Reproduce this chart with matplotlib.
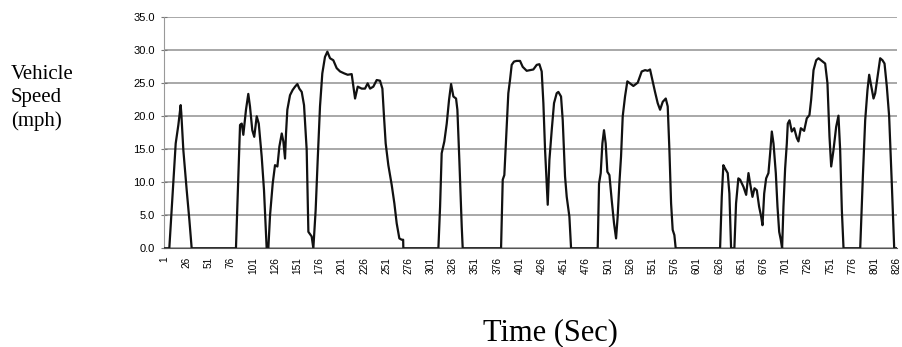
import matplotlib.pyplot as plt
import numpy as np

# speed trace (time in s, speed in mph)
time_s = [1, 6.5, 11.0, 13.7, 16.7, 19.3, 20.0, 22.3, 26.1, 29.1, 31.7,
          81.6, 84.3, 86.2, 88.1, 89.9, 92.9, 95.5, 97.4, 100.0, 102.2, 105.0,
          107.3, 110.6, 113.2, 115.5, 116.2, 118.1,
          120.0, 123.0, 125.6, 128.3, 130.5, 133.2, 135.0, 136.9, 138.0, 139.5,
          142.5, 145.5, 148.2, 150.8, 153.0, 155.7, 158.3, 161.3, 163.2, 166.9,
          168.8, 171.4, 173.7, 176.3, 178.9, 181.9, 184.6, 187.6, 191.3, 195.1,
          198.9, 203.7, 207.5, 212.0, 213.9, 215.8, 218.8, 223.3, 227.0, 230.0,
          232.7, 236.4, 240.2, 243.9, 246.6, 248.4, 250.3, 253.3, 257.1, 260.1,
          262.7, 265.7, 268.4, 270.0, 270.2,
          309.7, 311.6, 313.4, 316.4, 319.1, 321.7, 324.0, 326.6, 329.6, 331.1,
          333.3, 336.0, 337.1,
          380.3, 382.2, 384.0, 385.9, 388.5, 390.4, 392.3, 394.9, 397.9, 401.7,
          404.7, 409.2, 413.0, 416.7, 420.5, 423.5, 426.1, 428.0, 429.9, 431.8,
          432.9, 434.8, 437.4, 440.0, 443.0, 444.9, 447.9, 449.8, 452.4, 454.3,
          457.3, 459.2,
          489.2, 490.7, 492.6, 494.5, 496.3, 498.2, 500.1, 502.4, 505.0, 507.6,
          509.9, 511.7, 513.6, 515.5, 517.4, 520.0, 522.6, 525.6, 529.4, 534.3,
          538.8, 542.6, 545.6, 548.2, 550.8, 553.8, 556.8, 559.5, 562.5, 565.9,
          568.1, 570.0, 571.9, 573.7, 575.6, 577.1,
          627.1, 629.0, 630.8, 632.7, 635.7, 637.6, 639.5, 643.2, 645.1, 647.7,
          649.7, 653.5, 656.5, 659.1, 661.0, 663.6, 665.9, 668.5, 671.1, 673.4,
          674.9, 676.8, 679.0, 681.6, 683.5, 685.4, 687.3, 689.9, 691.8, 693.7,
          695.5, 697.0, 698.5, 700.4, 702.3, 703.4, 705.3, 707.9, 710.6, 713.6,
          715.4, 718.1, 721.8, 724.8, 727.8, 729.7, 732.4, 735.4, 738.0, 741.7,
          745.5, 748.1, 750.4, 752.3, 754.9, 757.9, 760.5, 762.4, 764.3, 766.2,
          785.0, 788.0, 790.6, 793.2, 795.1, 797.3, 800.0, 801.9, 804.5, 807.5,
          810.1, 812.4, 815.0, 817.6, 820.6, 823.3, 826]
speed_mph = [0, 0, 9.8, 15.9, 18.7, 21.7, 20.5, 14.9, 8.8, 4.3, 0,
             0, 10.9, 18.7, 18.9, 17.2, 21.0, 23.4, 21.5, 17.9, 16.9, 20.0,
             18.9, 13.9, 8.8, 1.8, 0, 0,
             5.0, 9.8, 12.6, 12.4, 15.4, 17.4, 16.2, 13.6, 17.4, 21.0,
             23.2, 24.0, 24.5, 24.9, 24.2, 23.7, 21.7, 14.9, 2.5, 1.8,
             0, 5.8, 13.4, 21.5, 26.5, 29.0, 29.8, 28.8, 28.5, 27.3,
             26.8, 26.5, 26.3, 26.4, 24.5, 22.7, 24.5, 24.2, 24.2, 25.0,
             24.2, 24.5, 25.5, 25.4, 24.2, 20.0, 15.9, 12.6, 9.6, 6.8,
             3.8, 1.5, 1.3, 1.3, 0,
             0, 6.3, 14.4, 16.2, 18.9, 22.5, 24.9, 23.0, 22.7, 21.0,
             13.4, 3.3, 0,
             0, 10.4, 11.1, 16.4, 23.5, 25.5, 27.8, 28.3, 28.4, 28.4,
             27.5, 26.9, 27.0, 27.1, 27.8, 27.9, 26.8, 22.0, 14.9, 9.8,
             6.6, 13.4, 17.9, 22.0, 23.5, 23.7, 23.0, 19.4, 10.9, 7.8,
             4.8, 0,
             0, 9.8, 11.4, 15.9, 17.9, 15.9, 11.6, 11.1, 7.3, 3.8,
             1.5, 4.8, 9.8, 13.9, 20.0, 23.0, 25.3, 25.0, 24.6, 25.1,
             26.8, 27.0, 26.9, 27.1, 25.5, 23.7, 22.0, 21.0, 22.2, 22.7,
             21.5, 14.9, 6.8, 2.8, 2.0, 0,
             0, 7.8, 12.6, 12.1, 11.4, 8.3, 0, 0, 6.8, 10.6,
             10.4, 9.3, 8.1, 11.4, 9.8, 7.8, 9.1, 8.8, 6.3, 4.8,
             3.5, 8.3, 10.6, 11.4, 14.4, 17.7, 15.9, 11.4, 6.3, 2.5,
             1.3, 0, 6.3, 12.1, 15.9, 18.9, 19.4, 17.7, 18.2, 16.7,
             16.2, 18.2, 17.8, 19.7, 20.2, 22.5, 27.0, 28.5, 28.8, 28.4,
             28.0, 25.0, 16.9, 12.4, 14.9, 18.4, 20.1, 14.9, 5.8, 0,
             0, 10.9, 19.4, 24.0, 26.3, 24.7, 22.7, 23.5, 26.0, 28.8,
             28.5, 28.0, 24.5, 20.0, 9.8, 0, 0]

x_ticks = list(range(1, 827, 25))
y_ticks = np.arange(0, 35.1, 5)


fig = plt.figure(figsize=(9.02, 3.47), dpi=100)
ax = fig.add_axes([0.1818, 0.2844, 0.8127, 0.6656])

for yv in y_ticks:
    ax.axhline(yv, color='#a8a8a8', lw=1.4, zorder=1)
ax.plot(time_s, speed_mph, color='#111111', lw=1.6, zorder=3)

ax.set_xlim(0.5, 826.5)
ax.set_ylim(0, 35)
ax.set_yticks(y_ticks)
ax.set_yticklabels(['%.1f' % v for v in y_ticks], fontsize=8, family='Liberation Sans')
ax.set_xticks(x_ticks)
ax.set_xticklabels([str(v) for v in x_ticks], rotation=90, fontsize=7.3,
                   family='Liberation Sans')
ax.tick_params(axis='y', direction='inout', length=5, width=0.8,
               color='#777777', pad=4)
ax.tick_params(axis='x', length=0, pad=6)

for side in ['top', 'right']:
    ax.spines[side].set_visible(False)
ax.spines['left'].set_color('#999999')
ax.spines['bottom'].set_color('#555555')
ax.spines['bottom'].set_zorder(4)

fig.text(0.012, 0.814, 'Vehicle\nSpeed\n(mph)', family='Liberation Serif',
         fontsize=15, ha='left', va='top', linespacing=1.3)
fig.text(0.61, 0.04, 'Time (Sec)', family='Liberation Serif', fontsize=22,
         ha='center', va='center')

fig.savefig('out.png', dpi=100)
